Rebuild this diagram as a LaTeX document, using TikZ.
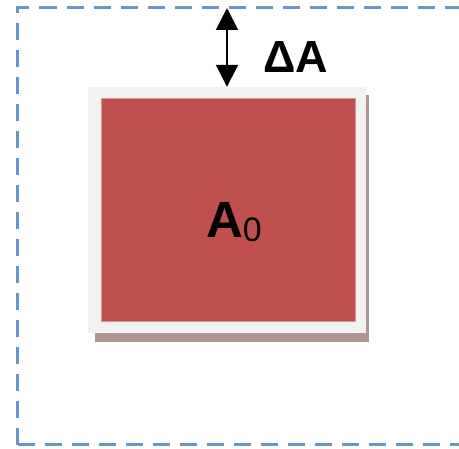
\documentclass[tikz,border=0pt]{standalone}
\usepackage{fontspec}
\setmainfont{Liberation Sans}
\usepackage{tikz}
\usetikzlibrary{arrows.meta, positioning, calc}
\usepackage{xcolor}
\definecolor{areared}{RGB}{192,80,77}
\definecolor{bordblue}{RGB}{79,129,189}
\definecolor{framegray}{RGB}{242,242,242}
\definecolor{shadowred}{RGB}{178,148,148}

\tikzset{
  growline/.style={bordblue!85, line width=3pt, dash pattern=on 17pt off 10pt},
  gaparrow/.style={{Triangle[length=22pt,width=22pt]}-{Triangle[length=22pt,width=22pt]}, line width=2pt},
  bigtext/.style={font=\fontsize{45}{50}\selectfont\bfseries}
}

\begin{document}
\begin{tikzpicture}[x=1pt,y=-1pt]
  \useasboundingbox (0,0) rectangle (459,449);
  % enlarged area, dashed
  \draw[growline] (17.5,445) -- (17.5,8) -- (480,8);
  \draw[growline] (17.5,445) -- (480,445);
  \coordinate (outertop) at (227,8);
  % shadow behind the frame
  \fill[shadowred] (95,95) rectangle (369,342);
  \node[fill=framegray, minimum width=278pt, minimum height=246pt, inner sep=0pt] (frame) at (227,210) {};
  \node[fill=areared, draw=areared!60!white, line width=1pt, minimum width=254pt, minimum height=223pt, inner sep=0pt] (area) at (228,210.5) {};
  \node[font=\fontsize{51}{55}\selectfont\bfseries, inner sep=0pt] (areaname) at (234,222) {A\textmd{\fontsize{34}{34}\selectfont\raisebox{-4pt}{0}}};
  % gap between the two borders
  \draw[gaparrow] (outertop) -- (frame.north);
  \node[bigtext, inner sep=0pt, anchor=base west] (gapname) at (263,73) {ΔA};
\end{tikzpicture}
\end{document}
